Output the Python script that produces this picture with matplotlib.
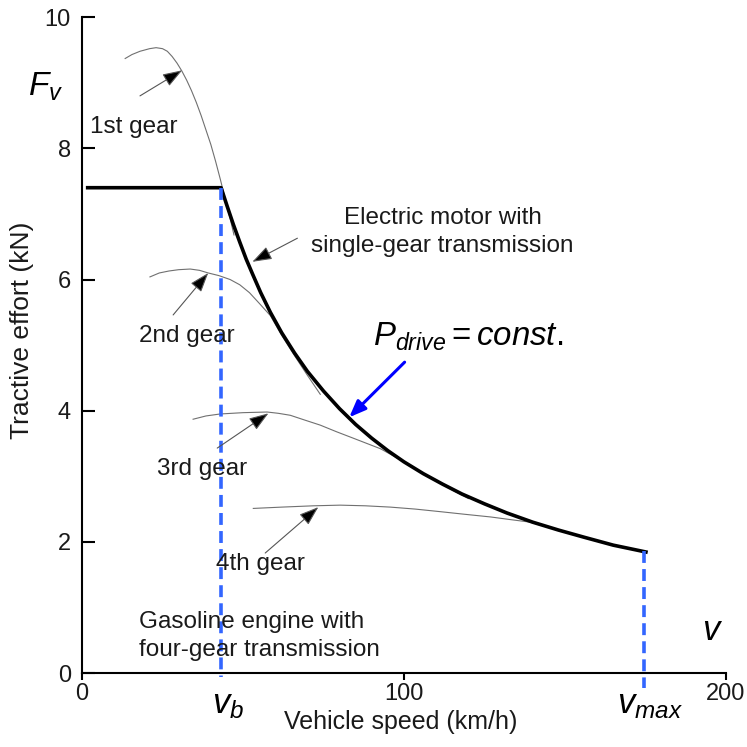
import matplotlib
matplotlib.use("Agg")
import matplotlib.pyplot as plt
import matplotlib.transforms as mtransforms

plt.rcParams['font.family'] = ['Liberation Sans', 'DejaVu Sans']
plt.rcParams['mathtext.fontset'] = 'custom'
plt.rcParams['mathtext.rm'] = 'Liberation Sans'
plt.rcParams['mathtext.it'] = 'Liberation Sans:italic'

# speeds (km/h)
v_b = 43.2
v_max = 174.5

# electric motor with single-gear transmission (km/h, kN)
ev_speed = [1.2, 43.2, 45.0, 47.0, 49.0, 51.0, 53.0, 55.5, 58.5, 62.0, 66.0, 70.0,
            75.0, 80.0, 85.0, 90.0, 95.0, 100.0, 106.0, 112.0, 118.0, 125.0,
            132.0, 140.0, 148.0, 156.0, 165.0, 175.7]
ev_force = [7.40, 7.40, 7.13, 6.84, 6.57, 6.31, 6.08, 5.80, 5.50, 5.19, 4.88, 4.60,
            4.30, 4.03, 3.79, 3.58, 3.39, 3.22, 3.04, 2.88, 2.73, 2.58,
            2.44, 2.30, 2.18, 2.07, 1.95, 1.84]

# gasoline engine, four gears
g1_speed = [13.4, 15.5, 18.0, 21.0, 23.0, 25.0, 26.5, 28.0, 29.5, 31.0, 32.5, 34.0,
            35.5, 37.0, 38.5, 40.0, 41.5, 43.0, 44.5, 46.0, 47.2]
g1_force = [9.37, 9.43, 9.48, 9.52, 9.535, 9.52, 9.48, 9.40, 9.30, 9.18, 9.04, 8.88,
            8.70, 8.50, 8.28, 8.06, 7.80, 7.52, 7.22, 6.93, 6.68]

g2_speed = [21.1, 24.0, 27.0, 30.0, 33.6, 36.5, 39.2, 42.5, 46.0, 49.0, 52.0, 55.0,
            58.5, 62.0, 66.0, 70.0, 74.0]
g2_force = [6.04, 6.10, 6.13, 6.15, 6.16, 6.14, 6.10, 6.06, 6.00, 5.92, 5.80, 5.64,
            5.45, 5.15, 4.84, 4.54, 4.25]

g3_speed = [34.5, 38.5, 42.9, 50.0, 57.5, 61.0, 64.7, 69.0, 74.0, 79.0, 84.3, 88.5,
            92.7, 96.0, 100.0, 105.0, 110.0, 115.0, 120.0]
g3_force = [3.87, 3.92, 3.95, 3.97, 3.98, 3.96, 3.93, 3.86, 3.78, 3.68, 3.58, 3.50,
            3.42, 3.33, 3.22, 3.07, 2.93, 2.79, 2.66]

g4_speed = [53.2, 62.0, 71.9, 80.2, 88.0, 95.8, 103.5, 111.4, 119.0, 126.9, 133.0,
            139.3, 145.0, 150.0, 155.0, 160.0]
g4_force = [2.51, 2.53, 2.55, 2.56, 2.55, 2.53, 2.50, 2.46, 2.42, 2.38, 2.34,
            2.30, 2.22, 2.15, 2.08, 2.02]

fig = plt.figure(figsize=(7.47, 7.47), dpi=100)
ax = fig.add_axes([0.1098, 0.099, 0.862, 0.878])

gray = '#707070'
txt = '#1a1a1a'
for vs, fs in [(g1_speed, g1_force), (g2_speed, g2_force),
               (g3_speed, g3_force), (g4_speed, g4_force)]:
    ax.plot(vs, fs, color=gray, lw=0.8)

ax.plot(ev_speed, ev_force, color='black', lw=2.6, solid_capstyle='butt',
        solid_joinstyle='round')

blue = '#3366ff'
ax.plot([v_b, v_b], [ev_force[1], -0.06], color=blue, lw=2.6,
        dashes=(3.3, 1.7), clip_on=False)
ax.plot([v_max, v_max], [1.86, -0.23], color=blue, lw=2.6,
        dashes=(3.3, 1.7), clip_on=False)

ax.set_xlim(0, 200)
ax.set_ylim(0, 10)
ax.set_xticks([0, 100, 200])
ax.set_yticks([0, 2, 4, 6, 8, 10])
for s in ['top', 'right']:
    ax.spines[s].set_visible(False)
for s in ['left', 'bottom']:
    ax.spines[s].set_linewidth(1.5)
ax.tick_params(axis='y', direction='in', length=9, width=1.5, pad=8,
               labelsize=17, labelcolor=txt)
ax.tick_params(axis='x', direction='out', length=5, width=1.5, pad=2,
               labelsize=17, labelcolor=txt)

fig.text(401 / 747, 1 - 722 / 747, 'Vehicle speed (km/h)', ha='center',
         va='center', fontsize=18, color=txt)
fig.text(22 / 747, 1 - 330 / 747, 'Tractive effort (kN)', ha='center',
         va='center', rotation=90, fontsize=19, color=txt)

# gear labels with arrows
arrow_kw = dict(arrowstyle='-|>,head_length=1.2,head_width=0.42',
                fc='black', ec='#555555', lw=0.8, shrinkA=0, shrinkB=0)
fs_lab = 17.5
ax.annotate('', xy=(31.1, 9.19), xytext=(18.0, 8.80), arrowprops=arrow_kw)
ax.text(2.5, 8.32, '1st gear', fontsize=fs_lab, va='center', color=txt)

ax.annotate('', xy=(39.2, 6.10), xytext=(28.3, 5.46), arrowprops=arrow_kw)
ax.text(32.4, 5.14, '2nd gear', fontsize=fs_lab, ha='center', va='center', color=txt)

ax.annotate('', xy=(57.9, 3.96), xytext=(42.0, 3.43), arrowprops=arrow_kw)
ax.text(37.3, 3.11, '3rd gear', fontsize=fs_lab, ha='center', va='center', color=txt)

ax.annotate('', xy=(73.4, 2.53), xytext=(56.9, 1.83), arrowprops=arrow_kw)
ax.text(55.4, 1.66, '4th gear', fontsize=fs_lab, ha='center', va='center', color=txt)

ax.annotate('', xy=(52.9, 6.27), xytext=(66.9, 6.63), arrowprops=arrow_kw)
ax.text(112, 6.72, 'Electric motor with\nsingle-gear transmission', fontsize=fs_lab,
        ha='center', va='center', color=txt, linespacing=1.35)

ax.text(17.7, 0.56, 'Gasoline engine with\nfour-gear transmission', fontsize=fs_lab,
        ha='left', va='center', color=txt, linespacing=1.35)

# constant power label
ax.annotate('', xy=(83.0, 3.90), xytext=(100.2, 4.74),
            arrowprops=dict(arrowstyle='-|>,head_length=1.0,head_width=0.4',
                            color='#0000ff', lw=2.2, shrinkA=0, shrinkB=0))
ax.text(90.5, 5.0, r'$P_{drive} = const.$', fontsize=23.8, ha='left',
        va='baseline', color='black')

# symbol labels
fig.text(28 / 747, 1 - 96 / 747, r'$F_v$', fontsize=24, va='baseline')
bl = mtransforms.blended_transform_factory(ax.transData, fig.transFigure)
ax.text(40.3, 1 - 713 / 747, r'$v_b$', fontsize=25, va='baseline', transform=bl)
ax.text(166.2, 1 - 713 / 747, r'$v_{max}$', fontsize=25, va='baseline', transform=bl)
ax.text(192.5, 0.5, r'$v$', fontsize=25, va='baseline')

fig.savefig('out.png', dpi=100)
